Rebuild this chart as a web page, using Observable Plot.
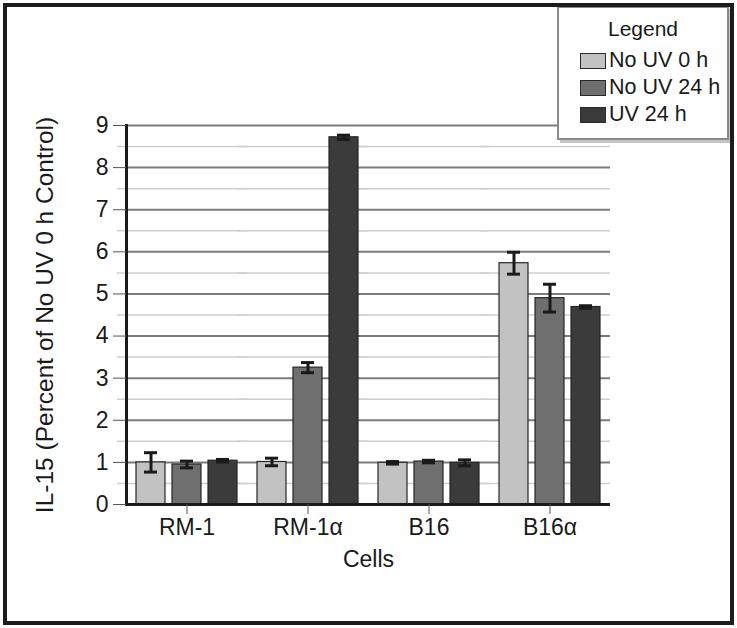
<!DOCTYPE html>
<html>
<head>
<meta charset="utf-8">
<script src="https://cdn.jsdelivr.net/npm/d3@7"></script>
<script src="https://cdn.jsdelivr.net/npm/@observablehq/plot@0.6"></script>
<style>
  html, body { margin: 0; padding: 0; background: #fff; }
  #wrap { position: relative; width: 737px; height: 628px; overflow: hidden; font-family: "Liberation Sans", Arial, sans-serif; }
  #border { position: absolute; left: 3px; top: 3px; width: 723px; height: 614px; border: 4px solid #1c1c1c; box-sizing: content-box; pointer-events: none; }
  #chart { position: absolute; left: 0; top: 0; }
  #legend { position: absolute; left: 557px; top: 6px; width: 168px; height: 130px; border: 2px solid #8a8a8a; background: #fff; box-shadow: 3px 3px 0 #c4c4c4; color: #1a1a1a; }
  #legend .title { text-align: center; font-size: 21px; margin-top: 9px; margin-bottom: 6px; }
  #legend .row { display: flex; align-items: center; font-size: 21.5px; height: 27px; padding-left: 21px; }
  #legend .sw { width: 24px; height: 14px; border: 1.5px solid #2a2a2a; margin-right: 3px; }
</style>
</head>
<body>
<div id="wrap">
  <div id="chart"></div>
  <div id="legend"></div>
  <div id="border"></div>
</div>
<script>
const cells = ["RM-1", "RM-1α", "B16", "B16α"];
const groups = ["No UV 0 h", "No UV 24 h", "UV 24 h"];
const colors = ["#c2c2c2", "#6f6f6f", "#3b3b3b"];

const noUV0 = [1.00, 1.01, 0.99, 5.73];
const noUV0Err = [0.23, 0.09, 0.03, 0.26];
const noUV24 = [0.95, 3.25, 1.02, 4.90];
const noUV24Err = [0.08, 0.12, 0.03, 0.33];
const uv24 = [1.04, 8.72, 0.99, 4.69];
const uv24Err = [0.03, 0.05, 0.07, 0.03];

const majorTicks = [0, 1, 2, 3, 4, 5, 6, 7, 8, 9];
const minorTicks = [0.5, 1.5, 2.5, 3.5, 4.5, 5.5, 6.5, 7.5, 8.5];
const yLabel = "IL-15 (Percent of No UV 0 h Control)";
const xLabel = "Cells";

const seriesVals = [noUV0, noUV24, uv24];
const seriesErrs = [noUV0Err, noUV24Err, uv24Err];
const data = cells.flatMap((c, i) => groups.map((g, j) => ({
  cell: c, group: g, value: seriesVals[j][i], err: seriesErrs[j][i]
})));

const font = "'Liberation Sans', Arial, sans-serif";

const chart = Plot.plot({
  width: 737,
  height: 628,
  marginLeft: 125,
  marginRight: 127,
  marginTop: 125,
  marginBottom: 124,
  style: { fontFamily: font, fontSize: "22px", background: "transparent", color: "#1a1a1a" },
  fx: { domain: cells, paddingInner: 0, paddingOuter: 0 },
  x: { domain: groups, paddingInner: 0.197, paddingOuter: 0.255, axis: null },
  y: { domain: [0, 9] },
  color: { domain: groups, range: colors },
  marks: [
    Plot.ruleY(minorTicks, { stroke: "#cfcfcf", strokeWidth: 1.5, insetLeft: -9 }),
    Plot.ruleY(majorTicks, { stroke: "#7c7c7c", strokeWidth: 2 }),
    Plot.barY(data, { fx: "cell", x: "group", y: "value", fill: "group", stroke: "#262626", strokeWidth: 1.2 }),
    Plot.ruleX(data, { fx: "cell", x: "group", y1: d => d.value - d.err, y2: d => d.value + d.err, stroke: "#1a1a1a", strokeWidth: 3 }),
    Plot.tickY(data, { fx: "cell", x: "group", y: d => d.value + d.err, insetLeft: 8, insetRight: 8, stroke: "#1a1a1a", strokeWidth: 3 }),
    Plot.tickY(data, { fx: "cell", x: "group", y: d => d.value - d.err, insetLeft: 8, insetRight: 8, stroke: "#1a1a1a", strokeWidth: 3 }),
    Plot.ruleY([0], { stroke: "#1a1a1a", strokeWidth: 3 }),
    Plot.frame({ anchor: "left", facetAnchor: "left", stroke: "#1a1a1a", strokeWidth: 3 }),
    Plot.axisY({ ticks: majorTicks, tickSize: 13, tickPadding: 5, fontSize: 23, stroke: "#555", label: null }),
    Plot.axisY({ ticks: [], tickSize: 0, fontSize: 24.5, label: yLabel, labelAnchor: "center", labelArrow: "none", labelOffset: 91 }),
    Plot.axisFx({ anchor: "bottom", tickSize: 10, tickPadding: 4, fontSize: 23, stroke: "#555", label: xLabel, labelAnchor: "center", labelArrow: "none", labelOffset: 62 })
  ]
});
document.getElementById("chart").appendChild(chart);

const legend = document.getElementById("legend");
const t = document.createElement("div");
t.className = "title";
t.textContent = "Legend";
legend.appendChild(t);
groups.forEach((g, i) => {
  const r = document.createElement("div");
  r.className = "row";
  const s = document.createElement("div");
  s.className = "sw";
  s.style.background = colors[i];
  const l = document.createElement("span");
  l.textContent = g;
  r.appendChild(s);
  r.appendChild(l);
  legend.appendChild(r);
});
</script>
</body>
</html>
